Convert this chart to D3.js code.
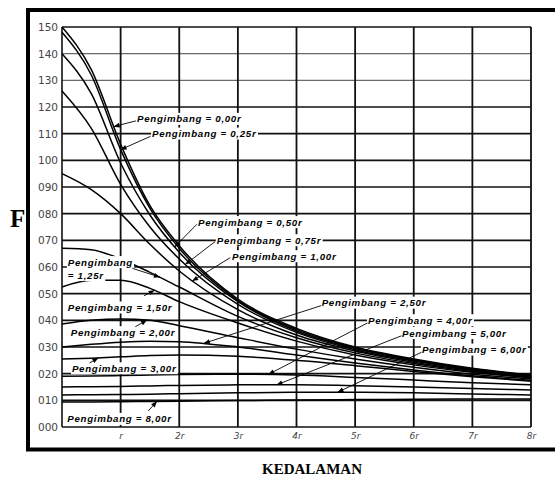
<!DOCTYPE html>
<html><head><meta charset="utf-8">
<script src="https://cdn.jsdelivr.net/npm/d3@7/dist/d3.min.js"></script>
<style>
html,body{margin:0;padding:0;background:#fff;}
svg{display:block;}
</style></head><body>
<svg id="chart" width="555" height="478"></svg>
<script>
// Depth below the loaded area, in multiples of the radius r
const depths = [0, 0.5, 1, 1.5, 2, 3, 4, 5, 6, 7, 8];

// Deflection factor F for each horizontal offset (pengimbang) from the centre
const f000 = [1.50, 1.34, 1.06, 0.83, 0.68, 0.48, 0.37, 0.300, 0.255, 0.220, 0.195];
const f025 = [1.48, 1.32, 1.04, 0.82, 0.67, 0.475, 0.365, 0.297, 0.252, 0.218, 0.193];
const f050 = [1.40, 1.25, 0.99, 0.795, 0.655, 0.47, 0.36, 0.294, 0.250, 0.216, 0.192];
const f075 = [1.26, 1.12, 0.91, 0.75, 0.63, 0.46, 0.355, 0.290, 0.247, 0.214, 0.190];
const f100 = [0.95, 0.89, 0.80, 0.685, 0.585, 0.44, 0.345, 0.285, 0.243, 0.212, 0.188];
const f125 = [0.67, 0.665, 0.63, 0.58, 0.525, 0.415, 0.335, 0.278, 0.238, 0.208, 0.186];
const f150 = [0.525, 0.55, 0.55, 0.52, 0.47, 0.39, 0.322, 0.270, 0.233, 0.205, 0.184];
const f200 = [0.386, 0.40, 0.405, 0.40, 0.38, 0.335, 0.292, 0.255, 0.224, 0.198, 0.180];
const f250 = [0.300, 0.31, 0.318, 0.322, 0.32, 0.30, 0.27, 0.240, 0.214, 0.192, 0.175];
const f300 = [0.255, 0.258, 0.263, 0.268, 0.27, 0.265, 0.25, 0.230, 0.208, 0.188, 0.172];
const f400 = [0.190, 0.191, 0.193, 0.195, 0.197, 0.198, 0.195, 0.186, 0.176, 0.166, 0.158];
const f500 = [0.150, 0.151, 0.152, 0.154, 0.156, 0.158, 0.158, 0.155, 0.150, 0.144, 0.139];
const f600 = [0.120, 0.121, 0.122, 0.123, 0.125, 0.128, 0.130, 0.130, 0.128, 0.124, 0.120];
const f800 = [0.094, 0.094, 0.095, 0.096, 0.097, 0.099, 0.101, 0.103, 0.104, 0.105, 0.105];

const offsetNames = ["0,00r", "0,25r", "0,50r", "0,75r", "1,00r", "1,25r", "1,50r",
                     "2,00r", "2,50r", "3,00r", "4,00r", "5,00r", "6,00r", "8,00r"];
const seriesValues = [f000, f025, f050, f075, f100, f125, f150,
                      f200, f250, f300, f400, f500, f600, f800];

// Axis ticks
const yTickValues = [0, 0.1, 0.2, 0.3, 0.4, 0.5, 0.6, 0.7, 0.8, 0.9, 1.0, 1.1, 1.2, 1.3, 1.4, 1.5];
const yTickLabels = ["000", "010", "020", "030", "040", "050", "060", "070",
                     "080", "090", "100", "110", "120", "130", "140", "150"];
const xTickValues = [1, 2, 3, 4, 5, 6, 7, 8];
const xTickLabels = ["r", "2r", "3r", "4r", "5r", "6r", "7r", "8r"];
// the two upper grid rules are printed fainter on the sheet
const faintRules = [1.3, 1.4];

const svg = d3.select("#chart");
const x = d3.scaleLinear().domain([0, 8]).range([62, 531]);
const y = d3.scaleLinear().domain([0, 1.5]).range([427, 27]);

// Outer frame (open on the right, as on the scanned sheet)
svg.append("path")
  .attr("d", "M560,10 H28 V449.5 H560")
  .attr("fill", "none").attr("stroke", "#000").attr("stroke-width", 4);

// Grid
const grid = svg.append("g");
grid.selectAll("line.h").data(yTickValues).join("line")
  .attr("x1", x(0)).attr("x2", x(8))
  .attr("y1", d => y(d)).attr("y2", d => y(d))
  .attr("stroke", d => faintRules.includes(d) ? "#6a6a6a" : "#111")
  .attr("stroke-width", d => faintRules.includes(d) ? 1.3 : 1.6);
grid.selectAll("line.v").data(xTickValues).join("line")
  .attr("x1", d => x(d)).attr("x2", d => x(d))
  .attr("y1", y(0)).attr("y2", y(1.5))
  .attr("stroke", "#111").attr("stroke-width", 1.8);
grid.append("line").attr("x1", x(0)).attr("x2", x(0)).attr("y1", y(0)).attr("y2", y(1.5))
  .attr("stroke", "#111").attr("stroke-width", 1.6);

// Axes
const yAxis = d3.axisLeft(y).tickValues(yTickValues)
  .tickFormat((d, i) => yTickLabels[i]).tickSize(0).tickPadding(4);
const gy = svg.append("g").attr("transform", `translate(${x(0)},0)`).call(yAxis);
gy.select(".domain").remove();
gy.selectAll("text").attr("font-family", "DejaVu Sans, sans-serif")
  .attr("font-size", 10.5).attr("fill", "#444");

const xAxis = d3.axisBottom(x).tickValues(xTickValues)
  .tickFormat((d, i) => xTickLabels[i]).tickSize(0).tickPadding(6);
const gx = svg.append("g").attr("transform", `translate(0,${y(0)})`).call(xAxis);
gx.select(".domain").remove();
gx.selectAll("text").attr("font-family", "DejaVu Sans, sans-serif")
  .attr("font-size", 9).attr("font-style", "italic").attr("fill", "#444");

// Curves
const line = d3.line().x((d, i) => x(depths[i])).y(d => y(d)).curve(d3.curveMonotoneX);
const paths = svg.append("g").selectAll("path").data(seriesValues).join("path")
  .attr("d", line).attr("fill", "none").attr("stroke", "#000").attr("stroke-width", 1.5);

// point on a drawn curve at a given depth
function curvePoint(idx, depth) {
  const node = paths.nodes()[idx];
  const total = node.getTotalLength();
  const tx = x(depth);
  let lo = 0, hi = total;
  for (let k = 0; k < 30; k++) {
    const mid = (lo + hi) / 2;
    if (node.getPointAtLength(mid).x < tx) lo = mid; else hi = mid;
  }
  const p = node.getPointAtLength((lo + hi) / 2);
  return [p.x, p.y];
}

// Curve labels: [series index, text lines, label depth, label value, leader start (depth, value), tip depth]
const notes = [
  [0, ["Pengimbang = 0,00r"], 1.28, 1.155, [1.26, 1.148], 0.88],
  [1, ["Pengimbang = 0,25r"], 1.535, 1.10, [1.51, 1.09], 1.0],
  [2, ["Pengimbang = 0,50r"], 2.32, 0.768, [2.30, 0.76], 1.92],
  [3, ["Pengimbang = 0,75r"], 2.64, 0.70, [2.61, 0.695], 2.10],
  [4, ["Pengimbang = 1,00r"], 2.90, 0.64, [2.87, 0.635], 2.22],
  [5, ["Pengimbang", "= 1,25r"], 0.10, 0.618, [1.20, 0.595], 1.67],
  [6, ["Pengimbang = 1,50r"], 0.10, 0.448, [1.40, 0.492], 1.58],
  [7, ["Pengimbang = 2,00r"], 0.15, 0.355, [1.25, 0.376], 1.45],
  [9, ["Pengimbang = 3,00r"], 0.17, 0.22, [0.47, 0.24], 0.62],
  [13, ["Pengimbang = 8,00r"], 0.09, 0.03, [1.47, 0.06], 1.62],
  [8, ["Pengimbang = 2,50r"], 4.43, 0.466, [4.42, 0.455], 2.42],
  [10, ["Pengimbang = 4,00r"], 5.22, 0.40, [5.21, 0.39], 3.52],
  [11, ["Pengimbang = 5,00r"], 5.80, 0.352, [5.79, 0.342], 3.66],
  [12, ["Pengimbang = 6,00r"], 6.14, 0.29, [6.13, 0.28], 4.70]
];

svg.append("defs").append("marker")
  .attr("id", "head").attr("viewBox", "0 0 10 10").attr("refX", 10).attr("refY", 5)
  .attr("markerWidth", 9).attr("markerHeight", 6).attr("markerUnits", "userSpaceOnUse")
  .attr("orient", "auto")
  .append("path").attr("d", "M0,1 L10,5 L0,9 Z").attr("fill", "#000");

const ann = svg.append("g");
notes.forEach(([idx, lines, ld, lv, from, tipDepth]) => {
  const g = ann.append("g");
  const bg = g.append("g");
  const tx = x(ld), ty = y(lv);
  const texts = lines.map((s, k) => g.append("text")
    .attr("x", tx).attr("y", ty + k * 13).attr("dy", "0.35em")
    .attr("font-family", "Liberation Sans, Arial, sans-serif")
    .attr("font-size", 9.7).attr("font-weight", "bold").attr("font-style", "italic")
    .attr("letter-spacing", 0.7).attr("fill", "#000").text(s));
  texts.forEach(t => {
    const b = t.node().getBBox();
    bg.append("rect").attr("x", b.x - 1).attr("y", b.y - 0.5)
      .attr("width", b.width + 2).attr("height", b.height + 1).attr("fill", "#fff");
  });
  const tip = curvePoint(idx, tipDepth);
  g.append("line").attr("x1", x(from[0])).attr("y1", y(from[1]))
    .attr("x2", tip[0]).attr("y2", tip[1])
    .attr("stroke", "#000").attr("stroke-width", 0.9).attr("marker-end", "url(#head)");
});

// Axis titles
svg.append("text").attr("x", 10).attr("y", 227)
  .attr("font-family", "Liberation Serif, Times New Roman, serif")
  .attr("font-weight", "bold").attr("font-size", 25).text("F");
svg.append("text").attr("x", 312).attr("y", 474).attr("text-anchor", "middle")
  .attr("font-family", "Liberation Serif, Times New Roman, serif")
  .attr("font-weight", "bold").attr("font-size", 15).text("KEDALAMAN");
</script>
</body></html>
